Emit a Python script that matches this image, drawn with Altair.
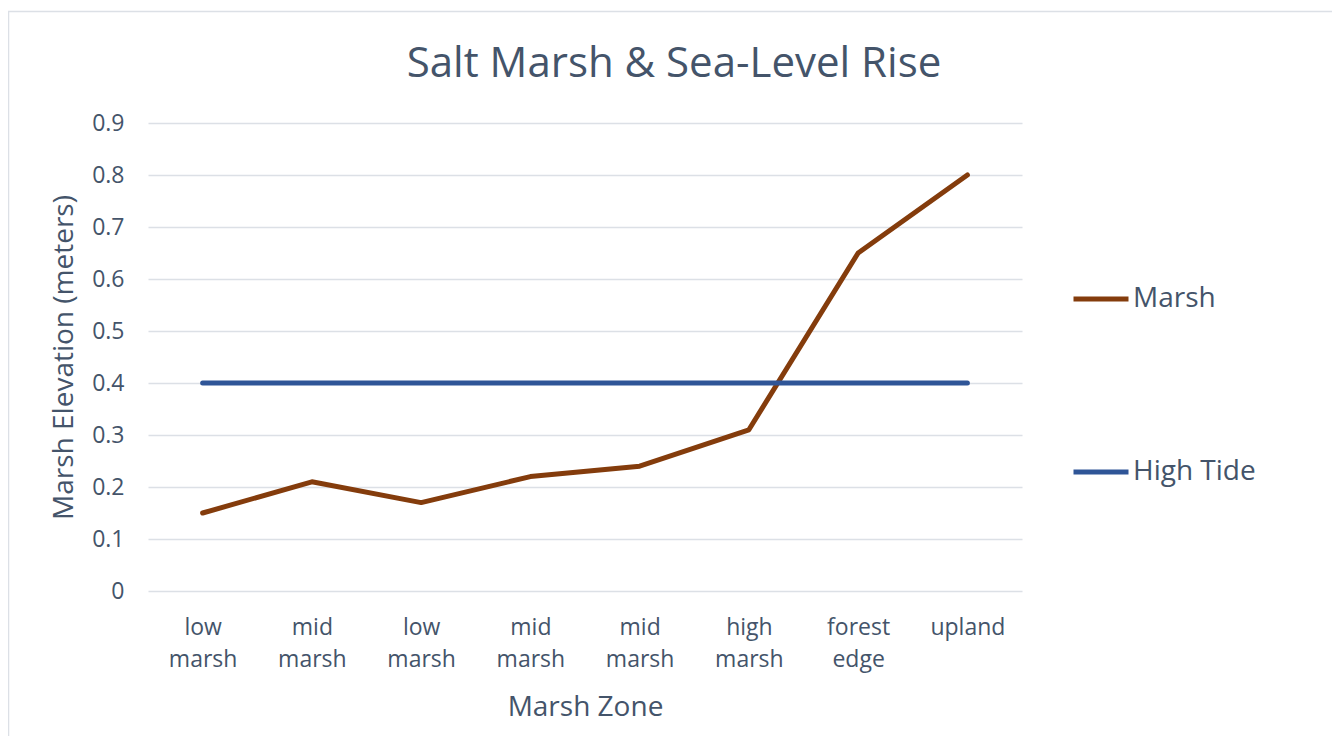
import altair as alt
import pandas as pd

zone_labels = ["low marsh", "mid marsh", "low marsh", "mid marsh", "mid marsh",
               "high marsh", "forest edge", "upland"]
marsh_values = [0.15, 0.21, 0.17, 0.22, 0.24, 0.31, 0.65, 0.80]
tide_values = [0.4, 0.4, 0.4, 0.4, 0.4, 0.4, 0.4, 0.4]
series_names = ["Marsh", "High Tide"]
series_colors = ["#843C0C", "#2F5597"]
y_ticks = [0, 0.1, 0.2, 0.3, 0.4, 0.5, 0.6, 0.7, 0.8, 0.9]

rows = []
for i, v in enumerate(marsh_values):
    rows.append({"zone": i, "series": "Marsh", "value": v})
for i, v in enumerate(tide_values):
    rows.append({"zone": i, "series": "High Tide", "value": v})
df = pd.DataFrame(rows)

label_arr = "[" + ",".join("'" + s + "'" for s in zone_labels) + "]"
label_expr = f"split({label_arr}[datum.value], ' ')"

TXT = "#44546A"
FONT = "Open Sans"

frame = alt.Chart(alt.Data(values=[{}])).mark_rect(
    fill=None, stroke="#DCE0E6", strokeWidth=1.5
).encode(
    x=alt.value(-139.5), x2=alt.value(1250),
    y=alt.value(-111.5), y2=alt.value(800),
)

lines = alt.Chart(df).mark_line(strokeWidth=5, strokeCap="round", strokeJoin="round").encode(
    x=alt.X("zone:O", title="Marsh Zone",
            scale=alt.Scale(type="point", padding=0.5),
            axis=alt.Axis(labelExpr=label_expr, labelAngle=0, ticks=False, domain=False,
                          labelPadding=25, labelFontSize=23, labelLineHeight=32,
                          labelColor=TXT, labelFont=FONT, titleFont=FONT,
                          titleFontSize=28, titleFontWeight="normal", titleColor=TXT,
                          titlePadding=22, grid=False)),
    y=alt.Y("value:Q", title="Marsh Elevation (meters)",
            scale=alt.Scale(domain=[0, 0.9], nice=False),
            axis=alt.Axis(values=y_ticks, format="~g", ticks=False, domain=False,
                          labelPadding=24, labelFontSize=23, labelColor=TXT,
                          labelFont=FONT, titleFont=FONT, titleFontSize=28,
                          titleFontWeight="normal", titleColor=TXT, titlePadding=13,
                          gridColor="#DCE0E6", gridWidth=1.5)),
    color=alt.Color("series:N", sort=series_names,
                    scale=alt.Scale(domain=series_names, range=series_colors),
                    legend=alt.Legend(title=None, orient="none", legendX=923, legendY=146,
                                      symbolType="stroke", symbolSize=3025,
                                      symbolStrokeWidth=5, labelFontSize=28,
                                      labelFont=FONT, labelColor=TXT, rowPadding=129,
                                      labelOffset=2)),
    detail="series:N",
)

chart = alt.layer(frame, lines).properties(
    width=874, height=468,
    title=alt.TitleParams("Salt Marsh & Sea-Level Rise", fontSize=42, font=FONT,
                          fontWeight="normal", color=TXT, offset=0, dy=75, dx=89),
    autosize=alt.AutoSizeParams(type="none"),
    padding={"left": 140, "top": 115, "right": 310, "bottom": 145},
).configure(
    background="white", view=alt.ViewConfig(stroke="transparent", strokeWidth=0)
)

chart.save("out.html", embed_options={"renderer": "svg", "actions": False})
